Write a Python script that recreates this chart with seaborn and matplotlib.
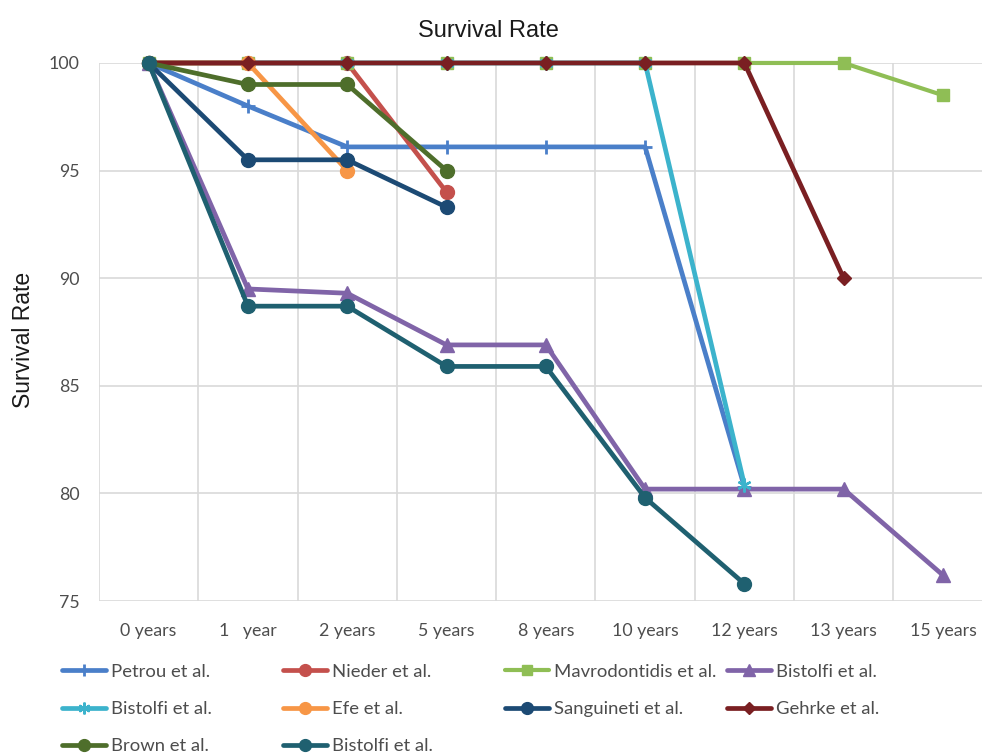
import numpy as np
import pandas as pd
import matplotlib
matplotlib.use("Agg")
import matplotlib.pyplot as plt
from matplotlib.lines import Line2D
import seaborn as sns

# Follow-up time points (categorical x axis)
periods = ["0 years", "1   year", "2 years", "5 years", "8 years",
           "10 years", "12 years", "13 years", "15 years"]

# Survival rate (%) per study; None where the study reports no value
petrou        = [100, 98.0, 96.1, 96.1, 96.1, 96.1, 80.3, None, None]
nieder        = [100, 100, 100, 94.0, None, None, None, None, None]
mavrodontidis = [100, 100, 100, 100, 100, 100, 100, 100, 98.5]
bistolfi_a    = [100, 89.5, 89.3, 86.9, 86.9, 80.2, 80.2, 80.2, 76.2]
bistolfi_b    = [100, 100, 100, 100, 100, 100, 80.4, None, None]
efe           = [100, 100, 95.0, None, None, None, None, None, None]
sanguineti    = [100, 95.5, 95.5, 93.3, None, None, None, None, None]
gehrke        = [100, 100, 100, 100, 100, 100, 100, 90.0, None]
brown         = [100, 99.0, 99.0, 95.0, None, None, None, None, None]
bistolfi_c    = [100, 88.7, 88.7, 85.9, 85.9, 79.8, 75.8, None, None]

series_names = ["Petrou et al.", "Nieder et al.", "Mavrodontidis et al.", "Bistolfi et al.",
                "Bistolfi et al.", "Efe et al.", "Sanguineti et al.", "Gehrke et al.",
                "Brown et al.", "Bistolfi et al."]
series_values = [petrou, nieder, mavrodontidis, bistolfi_a, bistolfi_b,
                 efe, sanguineti, gehrke, brown, bistolfi_c]

styles = [
    dict(color="#4a7fc9", marker="+", ms=10, mew=2.0, lw=3.4),
    dict(color="#c4504c", marker="o", ms=10, mew=1.0, lw=3.4),
    dict(color="#8fbe55", marker="s", ms=9, mew=1.0, lw=3.0),
    dict(color="#8064a8", marker="^", ms=9.5, mew=1.0, lw=3.4),
    dict(color="#3cb3cc", marker=(6, 2, 0), ms=10, mew=1.6, lw=3.4),
    dict(color="#f79646", marker="o", ms=10, mew=1.0, lw=3.4),
    dict(color="#1c4a74", marker="o", ms=10, mew=1.0, lw=3.4),
    dict(color="#7a1f22", marker="D", ms=7.5, mew=1.0, lw=3.4),
    dict(color="#4e6e2b", marker="o", ms=10, mew=1.0, lw=3.4),
    dict(color="#1f6070", marker="o", ms=10, mew=1.0, lw=3.4),
]

sns.set_style("white")
plt.rcParams["font.family"] = ["Lato", "DejaVu Sans"]

fig = plt.figure(figsize=(9.82, 7.56), dpi=100)
ax = fig.add_axes([0.1008, 0.205, 0.910, 0.7117])

x_idx = np.arange(len(periods))
for name, vals, st in zip(series_names, series_values, styles):
    df = pd.DataFrame({"x": x_idx, "y": vals}).dropna()
    sns.lineplot(data=df, x="x", y="y", ax=ax, estimator=None, sort=False,
                 color=st["color"], marker=st["marker"], markersize=st["ms"],
                 markeredgecolor=st["color"], markerfacecolor=st["color"],
                 markeredgewidth=st["mew"], linewidth=st["lw"], clip_on=False)

ax.set_xlim(-0.5, len(periods) - 0.5)
ax.set_ylim(75, 100)
ax.set_yticks([75, 80, 85, 90, 95, 100])
ax.set_xticks(x_idx)
ax.set_xticklabels(periods)
ax.set_xticks(np.arange(-0.5, len(periods), 1.0), minor=True)

ax.grid(False)
ax.yaxis.grid(True, which="major", color="#d9d9d9", lw=1.2)
ax.xaxis.grid(True, which="minor", color="#d9d9d9", lw=1.2)
ax.set_axisbelow(True)
for sp in ax.spines.values():
    sp.set_visible(False)

ax.tick_params(axis="both", which="both", length=0, labelsize=12.8, labelcolor="#4d4d4d")
ax.tick_params(axis="y", pad=14)
ax.tick_params(axis="x", pad=16)

ax.set_xlabel("")
ax.set_ylabel("")
fig.text(0.0235, 0.55, "Survival Rate", ha="center", va="center", rotation=90,
         fontsize=16.5, family=["Liberation Sans", "DejaVu Sans"], color="#1a1a1a")
fig.text(0.497, 0.959, "Survival Rate", ha="center", va="center", fontsize=17,
         family=["Liberation Sans", "DejaVu Sans"], color="#1a1a1a")

# Legend laid out row by row in four fixed-width columns
handles = [Line2D([], [], color=st["color"], marker=st["marker"], ms=st["ms"] * 0.85,
                  mec=st["color"], mfc=st["color"], mew=st["mew"], lw=st["lw"])
           for st in styles]
col_x = [0.063, 0.288, 0.514, 0.740]
for c in range(4):
    idx = list(range(c, len(handles), 4))
    fig.legend([handles[i] for i in idx], [series_names[i] for i in idx],
               loc="upper left", bbox_to_anchor=(col_x[c], 0.122), ncol=1,
               frameon=False, fontsize=13.3, handlelength=2.4, handletextpad=0.26,
               labelspacing=1.15, borderpad=0, borderaxespad=0, labelcolor="#4d4d4d")

fig.savefig("out.png", dpi=100)
